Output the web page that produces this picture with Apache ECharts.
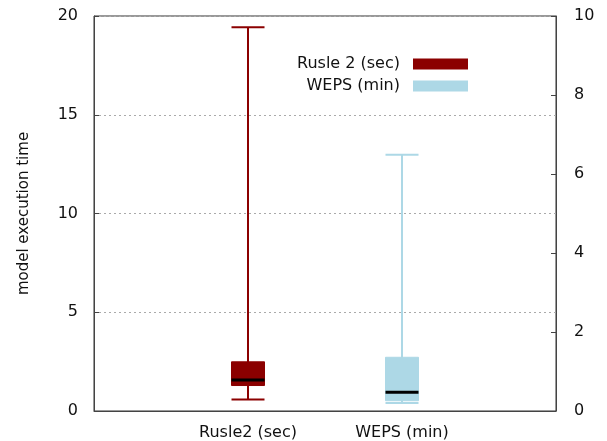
<!DOCTYPE html>
<html lang="en">
<head>
  <meta charset="UTF-8">
  <script src="https://cdn.jsdelivr.net/npm/echarts@6/dist/echarts.min.js"></script>
  <style>
    body { margin: 0; background: #fff; }
  </style>
</head>
<body>
  <div id="main" style="width: 607px;height:441px;"></div>
  <script type="text/javascript">
    // x 位置标签
    let categories = ['', 'Rusle2 (sec)', 'WEPS (min)', ''];
    let seriesNames = ['Rusle 2 (sec)', 'WEPS (min)'];
    // [min, Q1, median, Q3, max]
    let rusle2Box = [0.58, 1.29, 1.57, 2.49, 19.43];   // 左轴 (秒)
    let wepsBox = [0.20, 0.26, 0.475, 1.36, 6.49];     // 右轴 (分钟)

    let colors = ['#8b0000', '#add8e6'];
    let font = 'DejaVu Sans';
    let boxW = 33;

    // 自己画箱线：须线、端线、箱体、中位线
    function renderBox(params, api) {
      let x = api.value(0);
      let p = [1, 2, 3, 4, 5].map(function (i) { return api.coord([x, api.value(i)]); });
      let cx = p[0][0], h = boxW / 2;
      let color = api.visual('color');
      let line = function (x1, y1, x2, y2, c, w) {
        return { type: 'line', shape: { x1: x1, y1: y1, x2: x2, y2: y2 }, style: { stroke: c, lineWidth: w } };
      };
      return {
        type: 'group',
        children: [
          line(cx, p[0][1], cx, p[4][1], color, 2),
          line(cx - h, p[0][1], cx + h, p[0][1], color, 2),
          line(cx - h, p[4][1], cx + h, p[4][1], color, 2),
          { type: 'rect', shape: { x: cx - h, y: p[3][1], width: boxW, height: p[1][1] - p[3][1] },
            style: { fill: color, stroke: color, lineWidth: 1 } },
          line(cx - h, p[2][1], cx + h, p[2][1], '#000', 3)
        ]
      };
    }

    var myChart = echarts.init(document.getElementById('main'));
    myChart.setOption({
      animation: false,
      grid: {
        left: 94, right: 51, top: 16, bottom: 30,
        show: true, borderColor: '#333', borderWidth: 1
      },
      legend: {
        orient: 'vertical',
        align: 'right',
        right: 139,
        top: 56,
        padding: 0,
        itemWidth: 55,
        itemHeight: 11,
        itemGap: 6,
        icon: 'rect',
        textStyle: { fontFamily: font, fontSize: 16, color: '#111', padding: [0, 8, 0, 0] },
        data: [
          { name: seriesNames[0], itemStyle: { color: colors[0], borderWidth: 0 } },
          { name: seriesNames[1], itemStyle: { color: colors[1], borderWidth: 0 } }
        ]
      },
      xAxis: {
        type: 'value',
        min: 0, max: 3, interval: 1,
        axisLine: { lineStyle: { color: '#444' } },
        axisTick: { show: false },
        splitLine: { show: false },
        axisLabel: {
          margin: 14,
          fontFamily: font, fontSize: 16, color: '#111',
          formatter: function (v) { return categories[v] || ''; }
        }
      },
      yAxis: [
        {
          type: 'value', min: 0, max: 20, interval: 5,
          name: 'model execution time',
          nameLocation: 'middle',
          nameGap: 62,
          nameTextStyle: { fontFamily: font, fontSize: 15, color: '#111' },
          axisLine: { show: true, lineStyle: { color: '#444' } },
          axisTick: { show: true, inside: true, length: 5, lineStyle: { color: '#444' } },
          axisLabel: { margin: 16, fontFamily: font, fontSize: 16, color: '#111' },
          splitLine: { show: true, lineStyle: { color: '#aaa', type: [2, 3] } }
        },
        {
          type: 'value', min: 0, max: 10, interval: 2,
          position: 'right',
          axisLine: { show: true, lineStyle: { color: '#444' } },
          axisTick: { show: true, inside: true, length: 5, lineStyle: { color: '#444' } },
          axisLabel: { margin: 18, fontFamily: font, fontSize: 16, color: '#111' },
          splitLine: { show: false }
        }
      ],
      series: [
        {
          name: seriesNames[0],
          type: 'custom',
          yAxisIndex: 0,
          itemStyle: { color: colors[0] },
          encode: { x: 0, y: [1, 2, 3, 4, 5] },
          renderItem: renderBox,
          data: [[1].concat(rusle2Box)]
        },
        {
          name: seriesNames[1],
          type: 'custom',
          yAxisIndex: 1,
          itemStyle: { color: colors[1] },
          encode: { x: 0, y: [1, 2, 3, 4, 5] },
          renderItem: renderBox,
          data: [[2].concat(wepsBox)]
        }
      ]
    });
  </script>
</body>
</html>
